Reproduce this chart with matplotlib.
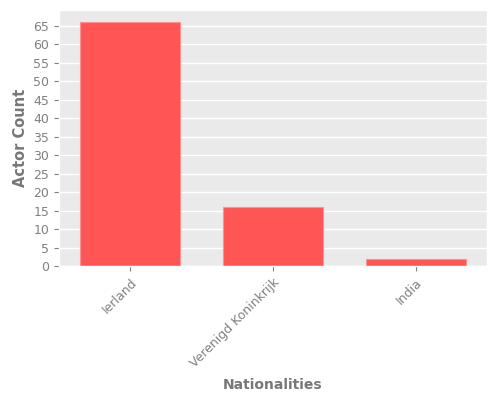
import matplotlib
matplotlib.use("Agg")
import matplotlib.pyplot as plt

# data
nationalities = ["Ierland", "Verenigd Koninkrijk", "India"]
actor_counts = [66, 16, 2]

plt.style.use("ggplot")

fig = plt.figure(figsize=(5, 4), dpi=100)
ax = fig.add_axes([0.118, 0.335, 0.856, 0.64])

ax.bar(range(len(nationalities)), actor_counts, width=0.7,
       color="#FF5555", edgecolor="#FF9090", linewidth=0.8)

ax.set_xticks(range(len(nationalities)))
ax.set_xticklabels(nationalities, rotation=45, ha="right", rotation_mode="anchor")
ax.set_yticks(range(0, 70, 5))
ax.set_xlim(-0.5, 2.5)
ax.set_ylim(0, 69.3)

ax.tick_params(axis="both", labelsize=9, colors="#808080", labelcolor="#808080")
ax.set_xlabel("Nationalities", fontsize=10, fontweight="bold", color="#777777", labelpad=6)
ax.set_ylabel("Actor Count", fontsize=10.5, fontweight="bold", color="#777777", labelpad=4)
ax.set_facecolor("#EAEAEA")
ax.grid(True, color="white", linewidth=1)
ax.grid(False, axis="x")
ax.set_axisbelow(True)

fig.savefig("out.png", dpi=100)
